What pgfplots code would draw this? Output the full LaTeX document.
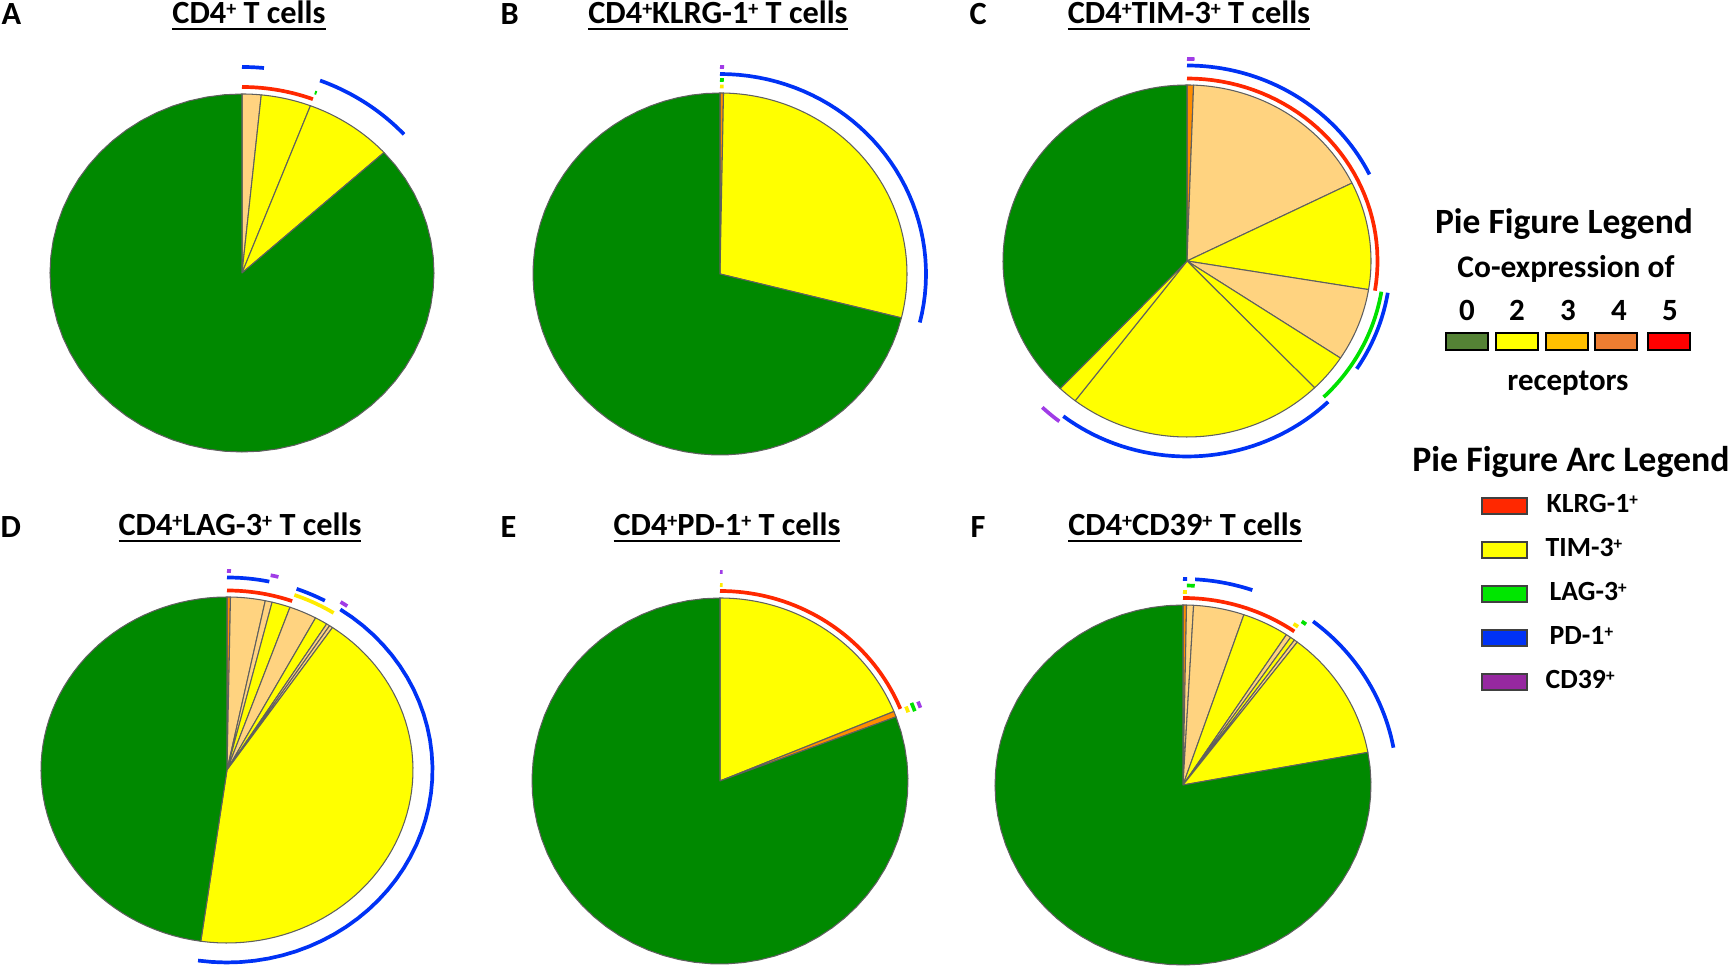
\documentclass[border=0pt]{standalone}
\usepackage{graphicx}
\usepackage{pgfplots}
\pgfplotsset{compat=1.18}
\usepackage{fontspec}
\setmainfont{Carlito}
\definecolor{pgreen}{RGB}{0,137,0}
\definecolor{pyel}{RGB}{255,255,0}
\definecolor{plor}{RGB}{255,211,128}
\definecolor{porg}{RGB}{255,140,0}
\definecolor{edgegray}{RGB}{95,95,95}
\definecolor{ared}{RGB}{255,40,0}
\definecolor{ayel}{RGB}{255,235,0}
\definecolor{agrn}{RGB}{0,225,0}
\definecolor{ablu}{RGB}{0,50,245}
\definecolor{apur}{RGB}{160,60,230}
\definecolor{l0}{RGB}{84,130,53}
\definecolor{l2}{RGB}{255,255,0}
\definecolor{l3}{RGB}{255,192,0}
\definecolor{l4}{RGB}{237,125,49}
\definecolor{l5}{RGB}{255,0,0}
\definecolor{lred}{RGB}{255,40,0}
\definecolor{lyel}{RGB}{255,255,0}
\definecolor{lgrn}{RGB}{0,230,0}
\definecolor{lblu}{RGB}{0,50,245}
\definecolor{lpur}{RGB}{150,40,160}
% slice: cx cy rx ry f0 f1 colour   (f = fraction of the pie, clockwise from 12 o'clock)
\newcommand{\slice}[7]{\addplot[fill=#7, draw=edgegray, line width=0.3pt, line join=round, domain=#5:#6, samples=60] ({#1+#3*sin(360*x)}, {#2-#4*cos(360*x)}) -- (axis cs:#1,#2) -- cycle;}
% ring: cx cy rx ry offset f0 f1 colour
\newcommand{\ring}[8]{\addplot[draw=#8, line width=1.05pt, line cap=butt, domain=#6:#7, samples=40] ({#1+(#3+#5)*sin(360*x)}, {#2-(#4+#5)*cos(360*x)});}
\newcommand{\ttl}{\fontsize{9.2}{11}\selectfont\bfseries}
\newcommand{\pl}{\raisebox{0.27em}{\scalebox{0.62}{+}}}
\begin{document}
\begin{tikzpicture}
\useasboundingbox (0,0) rectangle (17.31cm,9.71cm);
\begin{axis}[at={(0,0)}, anchor=south west, scale only axis, width=17.31cm, height=9.71cm,
  xmin=0, xmax=1731, ymin=0, ymax=971, y dir=reverse, hide axis, clip=false]
% ---------------- A ----------------
\slice{242}{273}{192}{179}{0}{0.016}{plor}
\slice{242}{273}{192}{179}{0.016}{0.058}{pyel}
\slice{242}{273}{192}{179}{0.058}{0.1325}{pyel}
\slice{242}{273}{192}{179}{0.1325}{1}{pgreen}
\ring{242}{273}{192}{179}{7}{0}{0.058}{ared}
\ring{242}{273}{192}{179}{27}{0}{0.016}{ablu}
\ring{242}{273}{192}{179}{27}{0.058}{0.1325}{ablu}
\ring{242}{273}{192}{179}{14}{0.0575}{0.059}{agrn}
% ---------------- B ----------------
\slice{720}{274}{187}{181}{0}{0.003}{porg}
\slice{720}{274}{187}{181}{0.003}{0.289}{pyel}
\slice{720}{274}{187}{181}{0.289}{1}{pgreen}
\ring{720}{274}{187}{181}{19}{0}{0.289}{ablu}
\ring{720}{274}{187}{181}{6.5}{0}{0.003}{ayel}
\ring{720}{274}{187}{181}{13}{0}{0.003}{agrn}
\ring{720}{274}{187}{181}{26}{0}{0.003}{apur}
% ---------------- C ----------------
\slice{1187}{261}{184}{176}{0}{0.0057}{porg}
\slice{1187}{261}{184}{176}{0.0057}{0.177}{plor}
\slice{1187}{261}{184}{176}{0.177}{0.276}{pyel}
\slice{1187}{261}{184}{176}{0.276}{0.343}{plor}
\slice{1187}{261}{184}{176}{0.343}{0.378}{pyel}
\slice{1187}{261}{184}{176}{0.378}{0.604}{pyel}
\slice{1187}{261}{184}{176}{0.604}{0.621}{pyel}
\slice{1187}{261}{184}{176}{0.621}{1}{pgreen}
\ring{1187}{261}{184}{176}{6.5}{0}{0.276}{ared}
\ring{1187}{261}{184}{176}{19.5}{0}{0.177}{ablu}
\ring{1187}{261}{184}{176}{26}{0}{0.0057}{apur}
\ring{1187}{261}{184}{176}{13}{0.276}{0.378}{agrn}
\ring{1187}{261}{184}{176}{19.5}{0.276}{0.343}{ablu}
\ring{1187}{261}{184}{176}{19.5}{0.378}{0.604}{ablu}
\ring{1187}{261}{184}{176}{26}{0.604}{0.621}{apur}
% ---------------- D ----------------
\slice{227}{770}{186}{173}{0}{0.003}{porg}
\slice{227}{770}{186}{173}{0.003}{0.033}{plor}
\slice{227}{770}{186}{173}{0.033}{0.039}{plor}
\slice{227}{770}{186}{173}{0.039}{0.055}{pyel}
\slice{227}{770}{186}{173}{0.055}{0.079}{plor}
\slice{227}{770}{186}{173}{0.079}{0.090}{pyel}
\slice{227}{770}{186}{173}{0.090}{0.093}{plor}
\slice{227}{770}{186}{173}{0.093}{0.096}{plor}
\slice{227}{770}{186}{173}{0.096}{0.5225}{pyel}
\slice{227}{770}{186}{173}{0.5225}{1}{pgreen}
\ring{227}{770}{186}{173}{6.5}{0}{0.055}{ared}
\ring{227}{770}{186}{173}{19.5}{0}{0.033}{ablu}
\ring{227}{770}{186}{173}{26}{0}{0.003}{apur}
\ring{227}{770}{186}{173}{26}{0.033}{0.039}{apur}
\ring{227}{770}{186}{173}{13}{0.055}{0.090}{ayel}
\ring{227}{770}{186}{173}{19.5}{0.055}{0.079}{ablu}
\ring{227}{770}{186}{173}{26}{0.090}{0.096}{apur}
\ring{227}{770}{186}{173}{19.5}{0.093}{0.5225}{ablu}
% ---------------- E ----------------
\slice{720}{781}{188}{183}{0}{0.188}{pyel}
\slice{720}{781}{188}{183}{0.188}{0.193}{porg}
\slice{720}{781}{188}{183}{0.193}{1}{pgreen}
\ring{720}{781}{188}{183}{7}{0}{0.188}{ared}
\ring{720}{781}{188}{183}{13}{0.188}{0.193}{ayel}
\ring{720}{781}{188}{183}{19.5}{0.187}{0.194}{agrn}
\ring{720}{781}{188}{183}{26}{0.188}{0.193}{apur}
\ring{720}{781}{188}{183}{13}{0}{0.002}{ayel}
\ring{720}{781}{188}{183}{26}{0}{0.002}{apur}
% ---------------- F ----------------
\slice{1183}{785}{188}{180}{0}{0.003}{porg}
\slice{1183}{785}{188}{180}{0.003}{0.009}{plor}
\slice{1183}{785}{188}{180}{0.009}{0.0525}{plor}
\slice{1183}{785}{188}{180}{0.0525}{0.0927}{pyel}
\slice{1183}{785}{188}{180}{0.0927}{0.097}{plor}
\slice{1183}{785}{188}{180}{0.097}{0.101}{pyel}
\slice{1183}{785}{188}{180}{0.101}{0.104}{plor}
\slice{1183}{785}{188}{180}{0.104}{0.221}{pyel}
\slice{1183}{785}{188}{180}{0.221}{1}{pgreen}
\ring{1183}{785}{188}{180}{7}{0}{0.0967}{ared}
\ring{1183}{785}{188}{180}{13}{0}{0.003}{ayel}
\ring{1183}{785}{188}{180}{19.5}{0.003}{0.009}{agrn}
\ring{1183}{785}{188}{180}{26}{0}{0.003}{ablu}
\ring{1183}{785}{188}{180}{26}{0.009}{0.0525}{ablu}
\ring{1183}{785}{188}{180}{13}{0.0927}{0.097}{ayel}
\ring{1183}{785}{188}{180}{19.5}{0.097}{0.101}{agrn}
\ring{1183}{785}{188}{180}{26}{0.104}{0.221}{ablu}
% ---------------- panel letters and titles ----------------
\node[anchor=base west, font=\ttl, inner sep=0pt] at (axis cs:1,25) {A};
\node[anchor=base west, font=\ttl, inner sep=0pt] at (axis cs:500,25) {B};
\node[anchor=base west, font=\ttl, inner sep=0pt] at (axis cs:969,25) {C};
\node[anchor=base west, font=\ttl, inner sep=0pt] at (axis cs:0,538) {D};
\node[anchor=base west, font=\ttl, inner sep=0pt] at (axis cs:500,538) {E};
\node[anchor=base west, font=\ttl, inner sep=0pt] at (axis cs:970,538) {F};
\node[anchor=base, font=\ttl, inner sep=0pt] at (axis cs:249,24) {\underline{CD4\pl{} T cells}};
\node[anchor=base, font=\ttl, inner sep=0pt] at (axis cs:718,24) {\underline{CD4\pl{}KLRG-1\pl{} T cells}};
\node[anchor=base, font=\ttl, inner sep=0pt] at (axis cs:1189,24) {\underline{CD4\pl{}TIM-3\pl{} T cells}};
\node[anchor=base, font=\ttl, inner sep=0pt] at (axis cs:240,536) {\underline{CD4\pl{}LAG-3\pl{} T cells}};
\node[anchor=base, font=\ttl, inner sep=0pt] at (axis cs:727,536) {\underline{CD4\pl{}PD-1\pl{} T cells}};
\node[anchor=base, font=\ttl, inner sep=0pt] at (axis cs:1185,536) {\underline{CD4\pl{}CD39\pl{} T cells}};
% ---------------- pie legend ----------------
\node[anchor=base, font=\fontsize{10.1}{12}\selectfont\bfseries, inner sep=0pt] at (axis cs:1564,234) {Pie Figure Legend};
\node[anchor=base, font=\fontsize{8.95}{10}\selectfont\bfseries, inner sep=0pt] at (axis cs:1566,278) {Co-expression of};
\node[anchor=base, font=\fontsize{8.8}{10}\selectfont\bfseries, inner sep=0pt] at (axis cs:1467,321) {0};
\node[anchor=base, font=\fontsize{8.8}{10}\selectfont\bfseries, inner sep=0pt] at (axis cs:1517,321) {2};
\node[anchor=base, font=\fontsize{8.8}{10}\selectfont\bfseries, inner sep=0pt] at (axis cs:1568,321) {3};
\node[anchor=base, font=\fontsize{8.8}{10}\selectfont\bfseries, inner sep=0pt] at (axis cs:1619,321) {4};
\node[anchor=base, font=\fontsize{8.8}{10}\selectfont\bfseries, inner sep=0pt] at (axis cs:1670,321) {5};
\draw[fill=l0, line width=0.4pt] (axis cs:1446,333) rectangle (axis cs:1488,350);
\draw[fill=l2, line width=0.4pt] (axis cs:1496,333) rectangle (axis cs:1538,350);
\draw[fill=l3, line width=0.4pt] (axis cs:1546,333) rectangle (axis cs:1588,350);
\draw[fill=l4, line width=0.4pt] (axis cs:1595,333) rectangle (axis cs:1637,350);
\draw[fill=l5, line width=0.4pt] (axis cs:1648,333) rectangle (axis cs:1690,350);
\node[anchor=base, font=\fontsize{8.8}{10}\selectfont\bfseries, inner sep=0pt] at (axis cs:1568,391) {receptors};
% ---------------- arc legend ----------------
\node[anchor=base, font=\fontsize{10.2}{12}\selectfont\bfseries, inner sep=0pt] at (axis cs:1571,472) {Pie Figure Arc Legend};
\draw[fill=lred, draw=black!75, line width=0.4pt] (axis cs:1482,498) rectangle (axis cs:1527,514);
\draw[fill=lyel, draw=black!75, line width=0.4pt] (axis cs:1482,542) rectangle (axis cs:1527,558);
\draw[fill=lgrn, draw=black!75, line width=0.4pt] (axis cs:1482,586) rectangle (axis cs:1527,602);
\draw[fill=lblu, draw=black!75, line width=0.4pt] (axis cs:1482,630) rectangle (axis cs:1527,646);
\draw[fill=lpur, draw=black!75, line width=0.4pt] (axis cs:1482,674) rectangle (axis cs:1527,690);
\node[anchor=base west, font=\fontsize{7.9}{9}\selectfont\bfseries, inner sep=0pt] at (axis cs:1546,513) {KLRG-1\pl};
\node[anchor=base west, font=\fontsize{7.9}{9}\selectfont\bfseries, inner sep=0pt] at (axis cs:1545,557) {TIM-3\pl};
\node[anchor=base west, font=\fontsize{7.9}{9}\selectfont\bfseries, inner sep=0pt] at (axis cs:1549,601) {LAG-3\pl};
\node[anchor=base west, font=\fontsize{7.9}{9}\selectfont\bfseries, inner sep=0pt] at (axis cs:1549,645) {PD-1\pl};
\node[anchor=base west, font=\fontsize{7.9}{9}\selectfont\bfseries, inner sep=0pt] at (axis cs:1545,689) {CD39\pl};
\end{axis}
\end{tikzpicture}
\end{document}
